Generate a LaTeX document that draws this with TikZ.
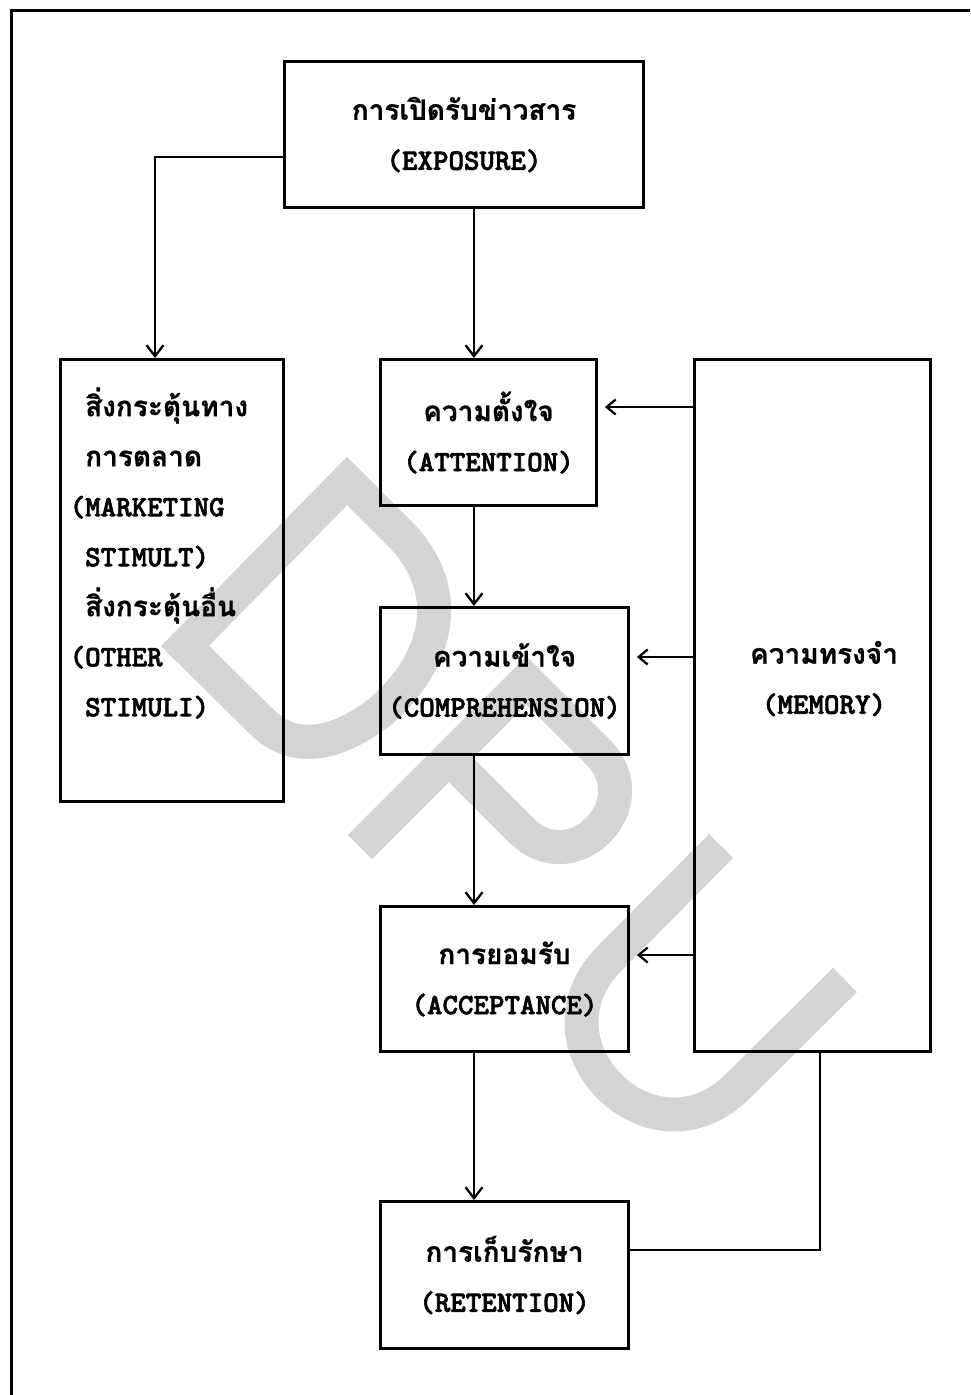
\documentclass[tikz,border=0pt]{standalone}
\usepackage{fontspec}
\newfontfamily\thaif[Script=Thai,FakeBold=0.6]{Loma}
\newfontfamily\latf[FakeBold=2.2]{lmmonolt10-bold.otf}
\usetikzlibrary{arrows.meta}
\newcommand\thaiT[1]{{\thaif\bfseries\fontsize{28}{50}\selectfont #1}}
\newcommand\latT[1]{{\latf\fontsize{29.5}{50}\selectfont #1}}
\begin{document}
\begin{tikzpicture}[x=1pt,y=-1pt,
  box/.style={draw, line width=2.9pt, inner sep=0pt, align=center, font=\fontsize{28}{50}\selectfont},
  txt/.style={inner sep=0pt, font=\fontsize{28}{50}\selectfont},
  con/.style={line width=2.5pt},
  arr/.style={con, -{Straight Barb[length=11pt,width=17pt,line width=2.3pt]}},
  arrs/.style={con, shorten >=7pt, -{Straight Barb[length=9pt,width=15pt,line width=2.2pt]}},
  wm/.style={draw=black!17, line width=34pt, line cap=butt, line join=miter}]
\path[use as bounding box] (0,0) rectangle (970,1395);
% watermark
\draw[wm] (185,646) -- (347,481) -- (400,534) .. controls (455,590) and (440,660) .. (380,712) .. controls (330,750) and (290,750) .. (262,722) -- cycle;
\draw[wm] (360,847) -- (526.5,680.5) -- (598,752) .. controls (650,804) and (572,882) .. (521,830) -- (449,758);
\draw[wm] (721,846) -- (610,958) .. controls (524,1044) and (652,1172) .. (738,1086) -- (845,980);
% frame
\draw[line width=3pt] (970,10) -- (11,10) -- (11,1395);
% boxes
\node[box, minimum width=359pt, minimum height=146pt] (exp) at (464,134.5) {\thaiT{การเปิดรับข่าวสาร}\\\latT{(EXPOSURE)}};
\node[box, minimum width=223pt, minimum height=442pt] (stim) at (172,580.5) {};
\node[txt, anchor=west, align=left] (stimtxt) at (85,553) {\thaiT{สิ่งกระตุ้นทาง}\\\thaiT{การตลาด}\\\latT{\llap{(}MARKETING}\\\latT{STIMULT)}\\\thaiT{สิ่งกระตุ้นอื่น}\\\latT{\llap{(}OTHER}\\\latT{STIMULI)}};
\node[box, minimum width=216pt, minimum height=146pt] (att) at (488.5,432.5) {\thaiT{ความตั้งใจ}\\\latT{(ATTENTION)}};
\node[box, minimum width=248pt, minimum height=147pt] (comp) at (504.5,681) {\thaiT{ความเข้าใจ}\\\latT{(COMPREHENSION)}};
\node[box, minimum width=248pt, minimum height=145pt] (acc) at (504.5,979) {\thaiT{การยอมรับ}\\\latT{(ACCEPTANCE)}};
\node[box, minimum width=248pt, minimum height=147pt] (ret) at (504.5,1275) {\thaiT{การเก็บรักษา}\\\latT{(RETENTION)}};
\node[box, minimum width=236pt, minimum height=692pt] (mem) at (812.5,705.5) {};
\node[txt, align=center] (memtxt) at (824,678.5) {\thaiT{ความทรงจำ}\\\latT{(MEMORY)}};
% connectors
\draw[arr] ([yshift=-22.5pt]exp.west) -| ([xshift=-17pt]stim.north);
\draw[arr] ([xshift=10pt]exp.south) -- ([xshift=10pt]exp.south |- att.north);
\draw[arr] ([xshift=-14.5pt]att.south) -- ([xshift=-14.5pt]att.south |- comp.north);
\draw[arr] ([xshift=-30.5pt]comp.south) -- ([xshift=-30.5pt]comp.south |- acc.north);
\draw[arr] ([xshift=-30.5pt]acc.south) -- ([xshift=-30.5pt]acc.south |- ret.north);
\coordinate (ma) at ([yshift=25.5pt]att.east);
\coordinate (mc) at ([yshift=24pt]comp.east);
\coordinate (mac) at ([yshift=24pt]acc.east);
\coordinate (rr) at ([yshift=25pt]ret.east);
\draw[arrs] (ma -| mem.west) -- (ma);
\draw[arrs] (mc -| mem.west) -- (mc);
\draw[arrs] (mac -| mem.west) -- (mac);
\draw[con] (rr) -| ([xshift=7.5pt]mem.south);
\end{tikzpicture}
\end{document}
